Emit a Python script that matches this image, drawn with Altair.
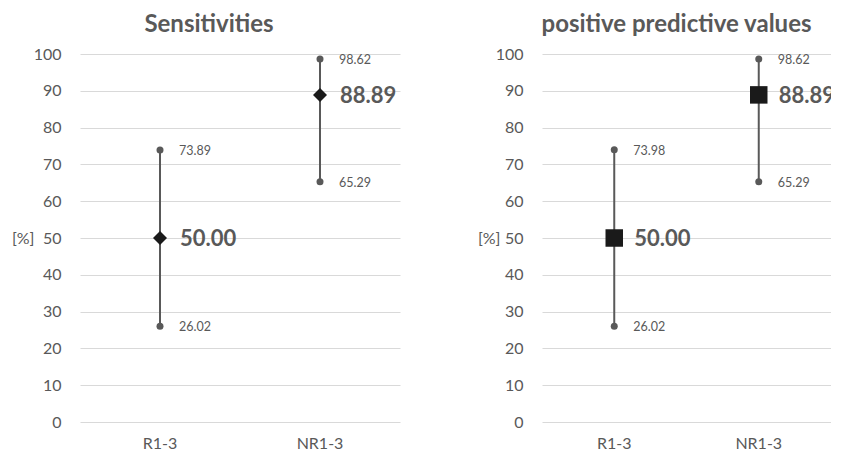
import altair as alt
import pandas as pd

categories = ["R1-3", "NR1-3"]

sens_val = [50.00, 88.89]
sens_lo = [26.02, 65.29]
sens_hi = [73.89, 98.62]

ppv_val = [50.00, 88.89]
ppv_lo = [26.02, 65.29]
ppv_hi = [73.98, 98.62]

titles = ["Sensitivities", "positive predictive values"]
y_ticks = list(range(0, 101, 10))

GREY = "#595959"
FONT = "Lato"
H = 368


def panel(title, vals, los, his, shape, size, width, title_dx, ytitle_x, clip):
    df = pd.DataFrame({"cat": categories, "val": vals, "lo": los, "hi": his})
    xenc = alt.X(
        "cat:N",
        sort=categories,
        axis=alt.Axis(title=None, labelAngle=0, ticks=False, domain=False,
                      grid=False, labelPadding=13, labelFontSize=16,
                      labelColor=GREY, labelFont=FONT),
    )
    yaxis = alt.Axis(values=y_ticks, title="[%]", titleAngle=0, titleAlign="right",
                     titleBaseline="middle", titleY=H / 2, titleX=ytitle_x,
                     titleFontWeight="normal", titleFontSize=16, titleColor=GREY,
                     titleFont=FONT, ticks=False, domain=False, grid=True,
                     gridColor="#d9d9d9", gridWidth=1, labelPadding=19,
                     labelFontSize=16, labelColor=GREY, labelFont=FONT)
    yscale = alt.Scale(domain=[0, 100], nice=False, zero=True)

    base = alt.Chart(df)
    rule = base.mark_rule(color=GREY, strokeWidth=2).encode(
        x=xenc,
        y=alt.Y("lo:Q", scale=yscale, axis=yaxis),
        y2="hi:Q",
    )
    lo_pt = base.mark_point(shape="circle", filled=True, opacity=1, color=GREY, size=49).encode(
        x=xenc, y=alt.Y("lo:Q", scale=yscale, axis=yaxis))
    hi_pt = base.mark_point(shape="circle", filled=True, opacity=1, color=GREY, size=49).encode(
        x=xenc, y=alt.Y("hi:Q", scale=yscale, axis=yaxis))
    main = base.mark_point(shape=shape, filled=True, opacity=1, color="#1a1a1a", size=size).encode(
        x=xenc, y=alt.Y("val:Q", scale=yscale, axis=yaxis))
    lo_txt = base.mark_text(align="left", baseline="middle", dx=19, dy=1, fontSize=12.5,
                            color=GREY, font=FONT).encode(
        x=xenc, y=alt.Y("lo:Q", scale=yscale, axis=yaxis), text=alt.Text("lo:Q", format=".2f"))
    hi_txt = base.mark_text(align="left", baseline="middle", dx=19, dy=1, fontSize=12.5,
                            color=GREY, font=FONT).encode(
        x=xenc, y=alt.Y("hi:Q", scale=yscale, axis=yaxis), text=alt.Text("hi:Q", format=".2f"))
    val_txt = base.mark_text(align="left", baseline="middle", dx=20, dy=1, fontSize=22,
                             fontWeight="bold", color=GREY, font=FONT, clip=clip).encode(
        x=xenc, y=alt.Y("val:Q", scale=yscale, axis=yaxis), text=alt.Text("val:Q", format=".2f"))

    return alt.layer(rule, lo_pt, hi_pt, main, lo_txt, hi_txt, val_txt).properties(
        width=width, height=H,
        title=alt.TitleParams(title, fontSize=24, fontWeight="bold", color=GREY, font=FONT,
                              anchor="middle", frame="group", dx=title_dx, offset=9),
    )


left = panel(titles[0], sens_val, sens_lo, sens_hi, "diamond", 196, 320, -31, -46, False)
right = panel(titles[1], ppv_val, ppv_lo, ppv_hi, "square", 306, 289, -10, -42, True)

chart = alt.hconcat(left, right, spacing=77).properties(
    padding={"left": 3, "top": 5, "right": 0, "bottom": 0},
    background="white",
).configure_view(strokeWidth=0, stroke="transparent")

chart.save("out.html", embed_options={"renderer": "svg", "actions": False})
